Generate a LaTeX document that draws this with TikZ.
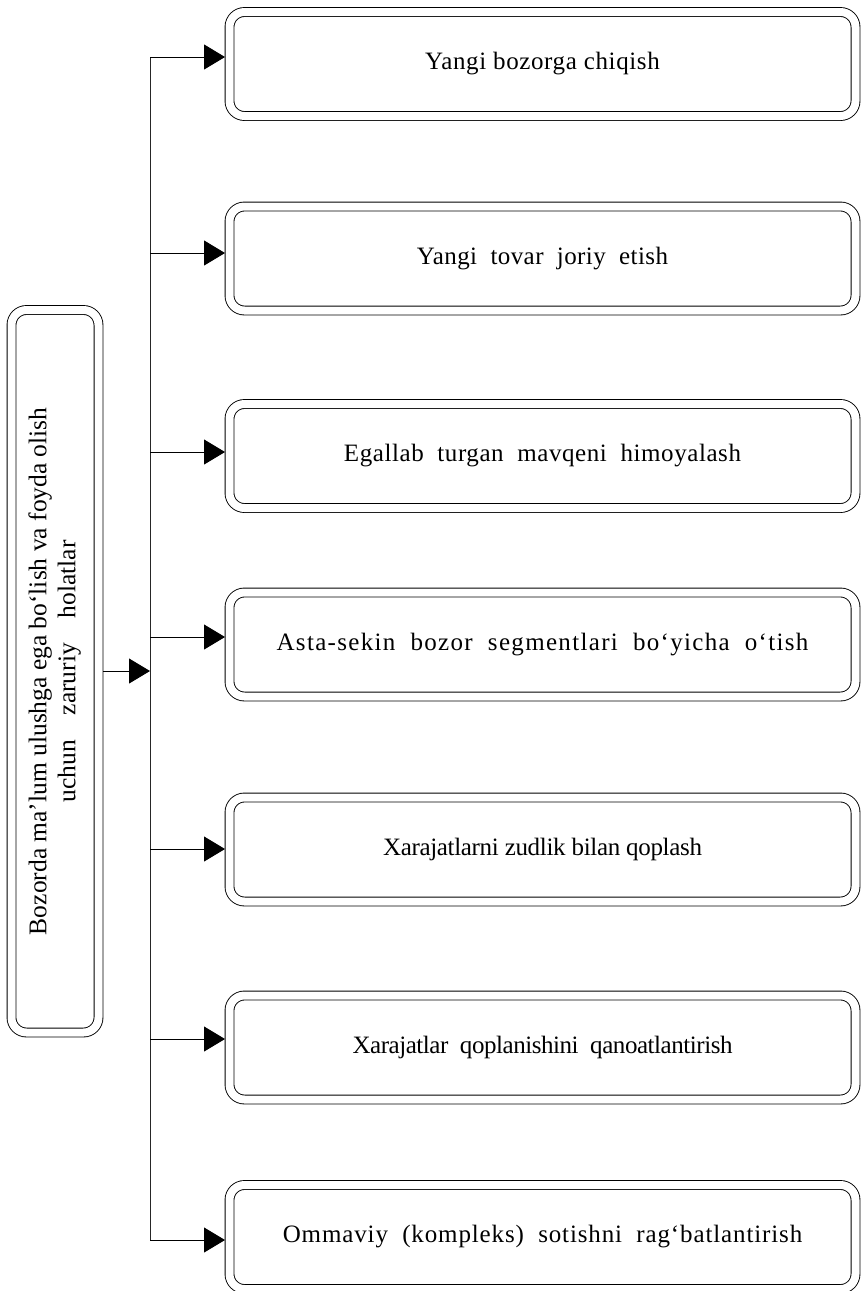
\documentclass[tikz,border=0pt]{standalone}
\usepackage{fontspec}
\usepackage{graphicx}
\setmainfont{Liberation Serif}
\usetikzlibrary{arrows.meta}
\newcommand{\lsp}[2]{{\addfontfeature{LetterSpace=#1}#2}}
\begin{document}
\begin{tikzpicture}[x=1pt,y=-1pt,
  dbox/.style={draw, rounded corners=15pt, double, double distance=8pt, line width=0.9pt, outer sep=4.5pt, inner sep=0pt},
  rbox/.style={dbox, minimum width=626pt, minimum height=104pt, font=\fontsize{25}{30}\selectfont},
  lbox/.style={dbox, minimum width=87pt, minimum height=722.5pt, font=\fontsize{25.5}{29}\selectfont},
  arr/.style={-{Triangle[length=21pt,width=25pt]}, line width=0.9pt},
  trunk/.style={line width=0.9pt, draw=black!85}]
\useasboundingbox (0,0) rectangle (860,1291);
% left box
\node[lbox] (L) at (55,671.25) {\rotatebox{90}{\begin{tabular}{@{}c@{}}Bozorda ma’lum ulushga ega bo‘lish va foyda olish\\ \makebox[262pt][s]{uchun zaruriy holatlar}\end{tabular}}};
% right boxes
\node[rbox] (b1) at (542.5,64) {\raisebox{-3pt}{\lsp{2.5}{Yangi bozorga chiqish}}};
\node[rbox] (b2) at (542.5,258.5) {\raisebox{-3pt}{\lsp{1.7}{Yangi\ \ tovar\ \ joriy\ \ etish}}};
\node[rbox] (b3) at (542.5,456) {\raisebox{-3pt}{\lsp{2.3}{Egallab\ \ turgan\ \ mavqeni\ \ himoyalash}}};
\node[rbox] (b4) at (542.5,644.5) {\raisebox{-3pt}{\lsp{5.3}{Asta-sekin\ \ bozor\ \ segmentlari\ \ bo‘yicha\ \ o‘tish}}};
\node[rbox] (b5) at (542.5,849.5) {\raisebox{-3pt}{\lsp{-1.3}{Xarajatlarni zudlik bilan qoplash}}};
\node[rbox] (b6) at (542.5,1047.5) {\raisebox{-3pt}{\lsp{-1.8}{Xarajatlar\ \ qoplanishini\ \ qanoatlantirish}}};
\node[rbox] (b7) at (542.5,1237) {\raisebox{-3pt}{\lsp{3.5}{Ommaviy\ \ (kompleks)\ \ sotishni\ \ rag‘batlantirish}}};
% trunk coordinates
\coordinate (t1) at (150,57);
\coordinate (t2) at (150,253);
\coordinate (t3) at (150,452);
\coordinate (t4) at (150,637);
\coordinate (t5) at (150,849);
\coordinate (t6) at (150,1039);
\coordinate (t7) at (150,1240);
\coordinate (tL) at (150,671);
\draw[trunk] (t1) -- (t7);
\foreach \i in {1,...,7} {\draw[arr] (t\i) -- (b\i.west |- t\i);}
\draw[arr] (L.east |- tL) -- (tL);
\end{tikzpicture}
\end{document}
